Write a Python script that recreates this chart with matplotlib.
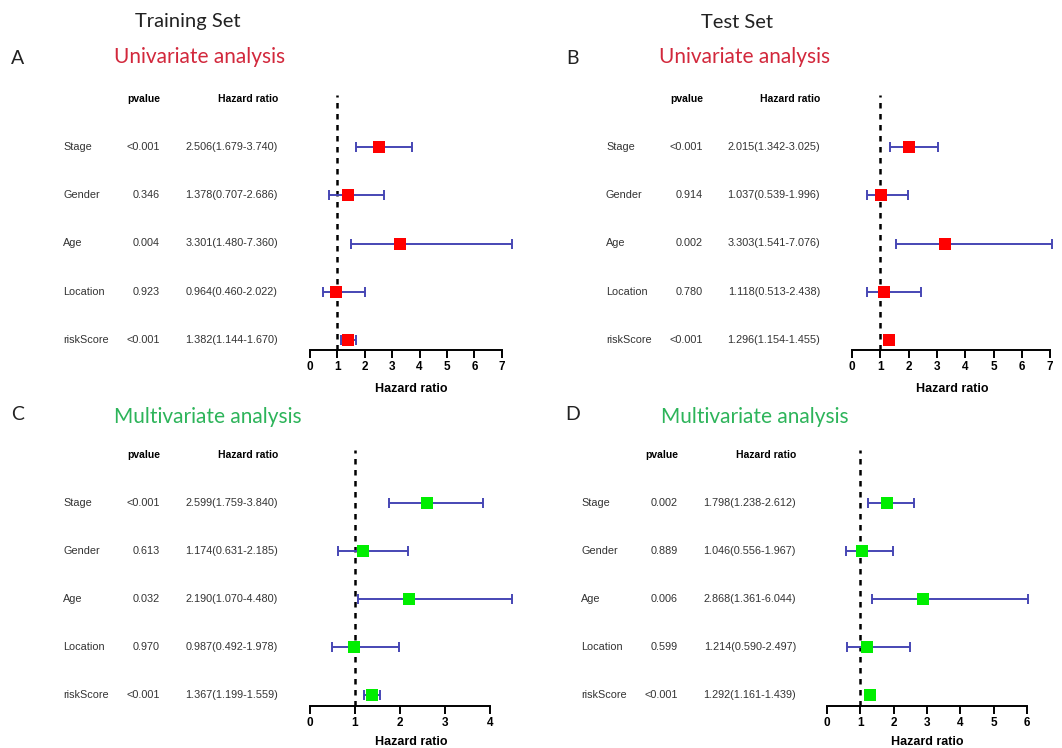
import numpy as np
import matplotlib
matplotlib.use("Agg")
import matplotlib.pyplot as plt
import matplotlib.transforms as mtransforms

# ------------------------------------------------------------
# Datos
# ------------------------------------------------------------
variables = ["Stage", "Gender", "Age", "Location", "riskScore"]

# A: Training set, univariante
hr_a = [2.506, 1.378, 3.301, 0.964, 1.382]
lo_a = [1.679, 0.707, 1.480, 0.460, 1.144]
hi_a = [3.740, 2.686, 7.360, 2.022, 1.670]
p_a = ["<0.001", "0.346", "0.004", "0.923", "<0.001"]

# B: Test set, univariante
hr_b = [2.015, 1.037, 3.303, 1.118, 1.296]
lo_b = [1.342, 0.539, 1.541, 0.513, 1.154]
hi_b = [3.025, 1.996, 7.076, 2.438, 1.455]
p_b = ["<0.001", "0.914", "0.002", "0.780", "<0.001"]

# C: Training set, multivariante
hr_c = [2.599, 1.174, 2.190, 0.987, 1.367]
lo_c = [1.759, 0.631, 1.070, 0.492, 1.199]
hi_c = [3.840, 2.185, 4.480, 1.978, 1.559]
p_c = ["<0.001", "0.613", "0.032", "0.970", "<0.001"]

# D: Test set, multivariante
hr_d = [1.798, 1.046, 2.868, 1.214, 1.292]
lo_d = [1.238, 0.556, 1.361, 0.590, 1.161]
hi_d = [2.612, 1.967, 6.044, 2.497, 1.439]
p_d = ["0.002", "0.889", "0.006", "0.599", "<0.001"]

W, H = 1062, 748
fig = plt.figure(figsize=(W / 100, H / 100), dpi=100)
fig.patch.set_facecolor("white")

TXT = "Liberation Sans"
TIT = "Lato"
CI_COLOR = "#4646b4"


def fx(px):
    return px / W


def fy(py):
    return 1 - py / H


def panel(hr, lo, hi, pv, mark_color, x0, unit, xmax, tmax,
          axis_y, top_y, stage_y, risk_y, lab_x, p_x, hr_x, labelpad=7):
    n = len(variables)
    s = (risk_y - stage_y) / (n - 1)
    ax = fig.add_axes([fx(x0), fy(axis_y), xmax * unit / W, (axis_y - top_y) / H])
    ax.set_xlim(0, xmax)
    ax.set_ylim(1 - (axis_y - risk_y) / s, n + (stage_y - top_y) / s)
    ax.patch.set_alpha(0)
    ys = np.arange(n, 0, -1)
    hr = np.array(hr)
    lo = np.array(lo)
    hi = np.array(hi)
    ax.axvline(1, color="black", lw=1.8, ls=(0, (2.2, 2.2)), zorder=1)
    ax.errorbar(hr, ys, xerr=[hr - lo, hi - hr], fmt="none", ecolor=CI_COLOR,
                elinewidth=1.4, capsize=3.5, capthick=1.4, zorder=2, clip_on=False)
    ax.plot(hr, ys, "s", color=mark_color, ms=8.5, mew=0, zorder=3, clip_on=False)
    for sp in ["top", "right", "left"]:
        ax.spines[sp].set_visible(False)
    ax.spines["bottom"].set_bounds(0, tmax)
    ax.spines["bottom"].set_linewidth(1.4)
    ax.set_yticks([])
    ax.set_xticks(range(tmax + 1))
    ax.tick_params(axis="x", length=6, width=1.4, pad=2, labelsize=8.5)
    for t in ax.get_xticklabels():
        t.set_fontweight("bold")
        t.set_fontfamily(TXT)
    ax.set_xlabel("Hazard ratio", fontsize=9, fontweight="bold", family=TXT,
                  labelpad=labelpad)

    tr = mtransforms.blended_transform_factory(fig.transFigure, ax.transData)
    ax.text(fx(p_x), n + 1, "pvalue", transform=tr, ha="right", va="center",
            fontsize=7.5, fontweight="bold", family=TXT)
    ax.text(fx(hr_x), n + 1, "Hazard ratio", transform=tr, ha="right", va="center",
            fontsize=7.5, fontweight="bold", family=TXT)
    for i in range(n):
        ax.text(fx(lab_x), ys[i], variables[i], transform=tr, ha="left", va="center",
                fontsize=7.8, family=TXT, color="#333333")
        ax.text(fx(p_x), ys[i], pv[i], transform=tr, ha="right", va="center",
                fontsize=7.8, family=TXT, color="#333333")
        txt = "%.3f(%.3f-%.3f)" % (hr[i], lo[i], hi[i])
        ax.text(fx(hr_x), ys[i], txt, transform=tr, ha="right", va="center",
                fontsize=7.8, family=TXT, color="#333333")
    return ax


panel(hr_a, lo_a, hi_a, p_a, "#ff0000", 310, 27.4, 7.36, 7,
      350, 95, 147, 340, 63, 160, 278)
panel(hr_b, lo_b, hi_b, p_b, "#ff0000", 852, 28.3, 7.076, 7,
      350, 95, 147, 340, 606, 703, 820)
panel(hr_c, lo_c, hi_c, p_c, "#00ee00", 310, 45.0, 4.48, 4,
      706, 450, 503, 695, 63, 160, 278, labelpad=5)
panel(hr_d, lo_d, hi_d, p_d, "#00ee00", 827, 33.3, 6.044, 6,
      706, 450, 503, 695, 581, 678, 796, labelpad=5)

# Títulos
fig.text(fx(188), fy(22), "Training Set", ha="center", va="center",
         fontsize=14.5, family=TIT, color="#222222")
fig.text(fx(737), fy(22), "Test Set", ha="center", va="center",
         fontsize=14.5, family=TIT, color="#222222")
red_t = "#d2283c"
green_t = "#2db45a"
for letra, x, y in [("A", 18, 58), ("B", 573, 58), ("C", 18, 414), ("D", 573, 414)]:
    fig.text(fx(x), fy(y), letra, ha="center", va="center", fontsize=14,
             family=TIT, color="#222222")
fig.text(fx(200), fy(57), "Univariate analysis", ha="center", va="center",
         fontsize=15, family=TIT, color=red_t)
fig.text(fx(745), fy(57), "Univariate analysis", ha="center", va="center",
         fontsize=15, family=TIT, color=red_t)
fig.text(fx(208), fy(417), "Multivariate analysis", ha="center", va="center",
         fontsize=15, family=TIT, color=green_t)
fig.text(fx(755), fy(417), "Multivariate analysis", ha="center", va="center",
         fontsize=15, family=TIT, color=green_t)

fig.savefig("out.png", dpi=100)
